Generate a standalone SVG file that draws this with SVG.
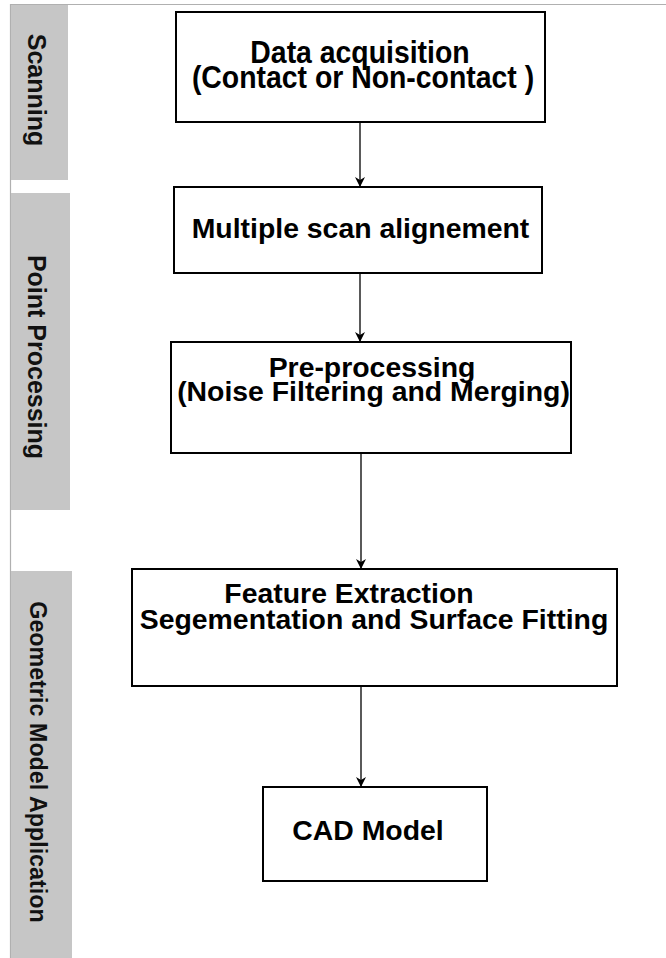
<svg xmlns="http://www.w3.org/2000/svg" width="666" height="958" viewBox="0 0 666 958">
<style>
.band{fill:#c6c6c6}
.box{fill:#fff;stroke:#000;stroke-width:2}
.t{font-family:"Liberation Sans",Arial,sans-serif;font-weight:bold;font-size:28.4px;fill:#000;text-anchor:middle}
.bt{font-family:"Liberation Sans",Arial,sans-serif;font-weight:bold;font-size:25px;fill:#111;text-anchor:middle}
.conn{stroke:#000;stroke-width:1.3;fill:none;marker-end:url(#ah)}
</style>
<defs>
<marker id="ah" viewBox="0 0 10 10" refX="10" refY="5" markerWidth="10" markerHeight="10" markerUnits="userSpaceOnUse" orient="auto">
<path d="M0,0 L10,5 L0,10 L3,5 Z" fill="#000"/>
</marker>
</defs>
<rect width="666" height="958" fill="#fff"/>
<line x1="10" y1="4.5" x2="666" y2="4.5" stroke="#b0b0b0" stroke-width="1.2"/>
<line x1="10.5" y1="4" x2="10.5" y2="958" stroke="#b0b0b0" stroke-width="1.2"/>
<g id="lane-scanning">
<rect class="band" x="11" y="5" width="57" height="175"/>
<text class="bt" transform="translate(28,90) rotate(90)">Scanning</text>
</g>
<g id="lane-point-processing">
<rect class="band" x="11" y="193" width="59" height="317"/>
<text class="bt" transform="translate(28,357) rotate(90)">Point Processing</text>
</g>
<g id="lane-geometric">
<rect class="band" x="11" y="571" width="61" height="387"/>
<text class="bt" style="font-size:23.3px" transform="translate(30,762) rotate(90)">Geometric Model Application</text>
</g>
<g id="connectors">
<line class="conn" x1="360" y1="122" x2="360" y2="187"/>
<line class="conn" x1="360" y1="273" x2="360" y2="342"/>
<line class="conn" x1="361" y1="453" x2="361" y2="569"/>
<line class="conn" x1="361" y1="686" x2="361" y2="787"/>
</g>
<g id="n1">
<rect class="box" x="176" y="12" width="369" height="110"/>
<text class="t" transform="translate(360,63) scale(1,1.12)">Data acquisition</text>
<text class="t" transform="translate(363,88) scale(1,1.12)">(Contact or Non-contact )</text>
</g>
<g id="n2">
<rect class="box" x="174" y="187" width="368" height="86"/>
<text class="t" x="360.5" y="238">Multiple scan alignement</text>
</g>
<g id="n3">
<rect class="box" x="171" y="342" width="400" height="111"/>
<text class="t" x="372" y="377">Pre-processing</text>
<text class="t" x="373.5" y="401">(Noise Filtering and Merging)</text>
</g>
<g id="n4">
<rect class="box" x="132" y="569" width="485" height="117"/>
<text class="t" x="349" y="603">Feature Extraction</text>
<text class="t" x="374" y="629">Segementation and Surface Fitting</text>
</g>
<g id="n5">
<rect class="box" x="263" y="787" width="224" height="94"/>
<text class="t" x="368" y="840">CAD Model</text>
</g>
</svg>
